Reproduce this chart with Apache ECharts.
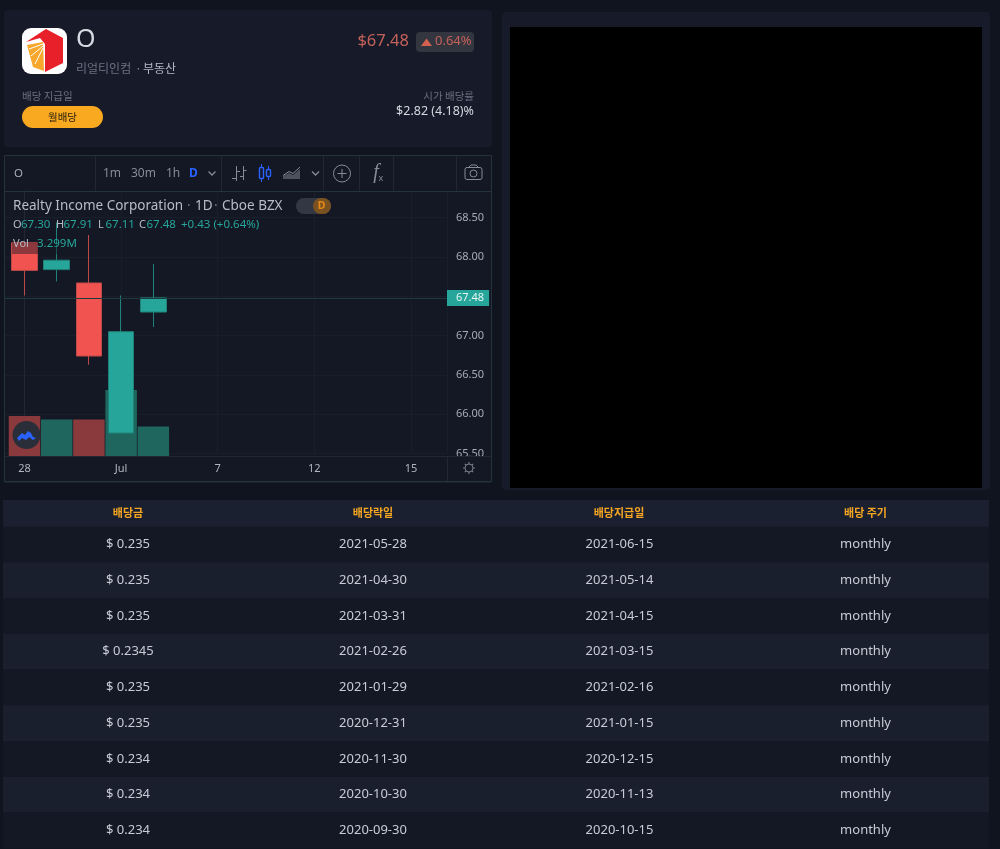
<!DOCTYPE html>
<html>
<head>
<meta charset="utf-8">
<title>O</title>
<style>
    html, body { margin: 0; padding: 0; background: #10141f; }
    #main { width: 1000px; height: 849px; }
</style>
<script src="https://cdn.jsdelivr.net/npm/echarts@6/dist/echarts.min.js"></script>
</head>
<body>
<div id="main"></div>
<script>
// 캔들 데이터
const categories = ['06-28', '06-29', '06-30', '07-01', '07-02'];
const opens = [68.18, 67.84, 67.67, 65.76, 67.30];
const closes = [67.83, 67.96, 66.74, 67.05, 67.48];
const lows = [67.51, 67.69, 66.63, 65.76, 67.11];
const highs = [68.18, 68.44, 68.28, 67.51, 67.91];
const volumes = [4.47, 4.08, 4.08, 7.38, 3.299];
const xTickLabels = {0: '28', 3: 'Jul', 6: '7', 9: '12', 12: '15'};

// 배당 테이블
const tableHeaders = ['배당금', '배당락일', '배당지급일', '배당 주기'];
const dividends = ['$ 0.235', '$ 0.235', '$ 0.235', '$ 0.2345', '$ 0.235', '$ 0.235', '$ 0.234', '$ 0.234', '$ 0.234'];
const exDates = ['2021-05-28', '2021-04-30', '2021-03-31', '2021-02-26', '2021-01-29', '2020-12-31', '2020-11-30', '2020-10-30', '2020-09-30'];
const payDates = ['2021-06-15', '2021-05-14', '2021-04-15', '2021-03-15', '2021-02-16', '2021-01-15', '2020-12-15', '2020-11-13', '2020-10-15'];
const cycles = ['monthly', 'monthly', 'monthly', 'monthly', 'monthly', 'monthly', 'monthly', 'monthly', 'monthly'];

const UP = '#26a69a', DOWN = '#f05350';
const KR = '"Noto Sans CJK KR", "Noto Sans", sans-serif';
const LATIN = '"Noto Sans", sans-serif';
const LINE = '#222734';
const FRAME = '#24333a';
const GRIDLINE = '#191e2b';
const ICON = '#868b98';

let myChart = echarts.init(document.getElementById('main'));

function rect(x, y, w, h, fill, r, z) {
    return {type: 'rect', z: z === undefined ? -10 : z, silent: true,
        shape: {x: x, y: y, width: w, height: h, r: r || 0}, style: {fill: fill}};
}
function text(s, x, y, size, color, align, font, weight) {
    return {type: 'text', z: 60, silent: true, x: x, y: y, style: {
        text: s, fill: color, fontSize: size, fontFamily: font || KR, fontWeight: weight || 'normal',
        textAlign: align || 'left', textVerticalAlign: 'middle'}};
}
function poly(points, fill, z) {
    return {type: 'polygon', z: z === undefined ? 60 : z, silent: true, shape: {points: points}, style: {fill: fill}};
}
function stroke(points, color, w) {
    return {type: 'polyline', z: 60, silent: true, shape: {points: points}, style: {stroke: color, fill: null, lineWidth: w || 1}};
}
function ring(cx, cy, r, color, w) {
    return {type: 'circle', z: 60, silent: true, shape: {cx: cx, cy: cy, r: r}, style: {stroke: color, fill: null, lineWidth: w || 1}};
}

let g = [];
// 상단 카드
g.push(rect(4, 10, 488, 137, '#171b29', 4));
g.push(rect(502, 12, 488, 478, '#171b29', 4));
g.push(rect(510, 27, 472, 461, '#000000'));
g.push(rect(22, 28, 45, 46, '#ffffff', 9, 59));
g.push(poly([[26, 42], [46, 29], [63, 38], [63, 63], [45, 72], [45, 44], [40, 38]], '#e8202a'));
g.push(poly([[27, 45], [43, 42], [44, 71], [33, 67]], '#f7a72c'));
g.push(stroke([[29, 49], [43, 44]], '#ffffff', 1));
g.push(stroke([[31, 56], [43, 46]], '#ffffff', 1));
g.push(stroke([[35, 64], [43, 48]], '#ffffff', 1));
g.push(text('O', 76, 40, 25, '#d8dbe3', 'left', LATIN));
g.push(text('리얼티인컴', 76, 68, 12, '#6b7080'));
g.push(text('·', 135, 68, 12, '#8a8f9c'));
g.push(text('부동산', 143, 68, 12, '#b6bac5'));
g.push(text('$67.48', 409, 41, 16.5, '#c4605a', 'right', LATIN));
g.push(rect(416, 32, 58, 20, '#33363f', 4, 59));
g.push(poly([[421, 46], [432, 46], [426.5, 38.5]], '#d4604f'));
g.push(text('0.64%', 435, 41.5, 13, '#c4605a', 'left', LATIN));
g.push(text('배당 지급일', 22, 96, 10.5, '#6b7080'));
g.push(rect(22, 106, 81, 22, '#f8a91f', 11, 59));
g.push(text('월배당', 62.5, 117, 10.5, '#2a2010', 'center'));
g.push(text('시가 배당률', 474, 96, 10.5, '#6b7080', 'right'));
g.push(text('$2.82 (4.18)%', 474, 111.5, 12.5, '#d5d8e0', 'right', LATIN));

// 차트 프레임
g.push(rect(4, 155, 488, 327, '#141824'));
g.push(stroke([[4.5, 155.5], [491.5, 155.5], [491.5, 481.5], [4.5, 481.5], [4.5, 155.5]], FRAME, 1));
g.push(stroke([[5, 191.5], [491, 191.5]], FRAME, 1));
[95.5, 221.5, 323.5, 359.5, 393.5, 456.5].forEach(function (x) {
    g.push(stroke([[x, 156], [x, 191]], LINE, 1));
});
g.push(text('O', 14, 173.5, 11.5, '#a6abb6', 'left', LATIN));
g.push(text('1m', 103, 173.5, 12, ICON, 'left', LATIN));
g.push(text('30m', 131, 173.5, 12, ICON, 'left', LATIN));
g.push(text('1h', 166, 173.5, 12, ICON, 'left', LATIN));
g.push(text('D', 189, 173.5, 12, '#2962ff', 'left', LATIN, 'bold'));
g.push(stroke([[208.5, 171.5], [212, 175], [215.5, 171.5]], ICON, 1.3));
g.push(stroke([[312, 171.5], [315.5, 175], [319, 171.5]], ICON, 1.3));
// 툴바 아이콘
g.push(stroke([[236.5, 166], [236.5, 181]], ICON, 1));
g.push(stroke([[232, 178.5], [236, 178.5]], ICON, 1));
g.push(stroke([[237, 171.5], [240, 171.5]], ICON, 1));
g.push(stroke([[243.5, 166], [243.5, 180]], ICON, 1));
g.push(stroke([[240, 176.5], [243, 176.5]], ICON, 1));
g.push(stroke([[244, 170.5], [246.5, 170.5]], ICON, 1));
g.push(stroke([[261.5, 164], [261.5, 182]], '#2962ff', 1));
g.push(stroke([[268.5, 166], [268.5, 180]], '#2962ff', 1));
g.push({type: 'rect', z: 60, silent: true, shape: {x: 259.5, y: 167.5, width: 4, height: 11, r: 1}, style: {fill: '#141824', stroke: '#2962ff', lineWidth: 1.4}});
g.push({type: 'rect', z: 60, silent: true, shape: {x: 266.5, y: 169.5, width: 4, height: 7, r: 1}, style: {fill: '#141824', stroke: '#2962ff', lineWidth: 1.4}});
g.push(poly([[283, 179], [283, 176], [289, 173], [293, 175], [300, 169], [300, 179]], '#4c515e'));
g.push(stroke([[283, 175.5], [289, 171.5], [293, 173.5], [300, 167]], ICON, 1));
g.push(ring(342, 173.5, 8.5, ICON, 1));
g.push(stroke([[337.5, 173.5], [346.5, 173.5]], ICON, 1));
g.push(stroke([[342, 169], [342, 178]], ICON, 1));
g.push(text('f', 376, 172.5, 20, ICON, 'center', 'Liberation Serif', 'italic'));
g.push(text('x', 381, 178.5, 9, ICON, 'center', LATIN));
g.push({type: 'rect', z: 60, silent: true, shape: {x: 465, y: 167.5, width: 17, height: 12, r: 2}, style: {fill: null, stroke: ICON, lineWidth: 1}});
g.push(ring(473.5, 173.5, 3.5, ICON, 1));
g.push(stroke([[469, 167], [471, 165], [476, 165], [478, 167]], ICON, 1));

// 차트 위 덮개와 범례
g.push(rect(0, 456, 491, 25, '#141824', 0, 40));
g.push(rect(0, 155, 5, 327, '#10141f', 0, 40));
g.push(stroke([[5, 456.5], [491, 456.5]], LINE, 1));
g.push(stroke([[4.5, 456], [4.5, 482], [491.5, 482]], FRAME, 1));
g.push(rect(447, 456, 1, 25, LINE, 0, 41));
// 설정 톱니
g.push(ring(469, 468, 4, '#787d8a', 1));
[[469, 462, 469, 464], [469, 472, 469, 474], [463, 468, 465, 468], [473, 468, 475, 468],
    [464.8, 463.8, 466.2, 465.2], [471.8, 470.8, 473.2, 472.2], [473.2, 463.8, 471.8, 465.2], [466.2, 470.8, 464.8, 472.2]].forEach(function (p) {
    g.push(stroke([[p[0], p[1]], [p[2], p[3]]], '#787d8a', 1.2));
});
g.push(rect(12, 243, 62, 11, 'rgba(20,24,36,0.45)', 0, 30));
const last = categories.length - 1;
const change = 0.43, changePct = 0.64;
g.push(text('Realty Income Corporation', 13, 206, 13.5, '#b8bcc7', 'left', LATIN));
g.push(text('·', 187, 206, 13.5, '#6b7080', 'left', LATIN));
g.push(text('1D', 195, 206, 13.5, '#b8bcc7', 'left', LATIN));
g.push(text('·', 214, 206, 13.5, '#6b7080', 'left', LATIN));
g.push(text('Cboe BZX', 222, 206, 13.5, '#b8bcc7', 'left', LATIN));
g.push(rect(296, 198, 35, 16, '#333743', 8, 59));
g.push(rect(313, 198, 18, 16, '#7a5220', 8, 59));
g.push(rect(301, 204.5, 10, 3, '#b8bcc7', 1));
g.push(text('D', 321.5, 206, 10.5, '#e88a1a', 'center', LATIN, 'bold'));
[['O', 13, opens[last]], ['H', 56, highs[last]], ['L', 98, lows[last]], ['C', 139, closes[last]]].forEach(function (it) {
    g.push(text(it[0], it[1], 224.5, 11, '#b8bcc7', 'left', LATIN));
    g.push(text(it[2].toFixed(2), it[1] + (it[0] === 'O' ? 8 : 7.5), 224.5, 11.5, UP, 'left', LATIN));
});
g.push(text('+' + change.toFixed(2) + ' (+' + changePct.toFixed(2) + '%)', 181, 224.5, 11.5, UP, 'left', LATIN));
g.push(text('Vol', 13, 244, 11, '#b8bcc7', 'left', LATIN));
g.push(text(volumes[last].toFixed(3) + 'M', 37, 244, 11.5, UP, 'left', LATIN));
// 트레이딩뷰 로고
g.push({type: 'circle', z: 60, silent: true, shape: {cx: 26.5, cy: 435, r: 14}, style: {fill: '#2a2e39'}});
g.push(poly([[17, 438], [22, 433], [25, 435], [28, 431], [31, 433], [33, 437], [36, 438], [33, 440], [29, 437], [26, 440], [22, 438], [19, 441]], '#2962ff'));

// 테이블
g.push(rect(3, 500, 986, 27, '#1b2030'));
tableHeaders.forEach(function (h, i) {
    g.push(text(h, [128, 373, 619, 865.5][i], 512.5, 11, '#f5a623', 'center', KR, 'bold'));
});
dividends.forEach(function (d, i) {
    const y = 526.5 + i * 35.75;
    g.push(rect(3, y, 986, 35.75, i % 2 ? '#1a1f2e' : '#141824'));
    const cy = y + 18;
    g.push(text(d, 128, cy, 13, '#c8ccd6', 'center', LATIN));
    g.push(text(exDates[i], 373, cy, 13, '#c8ccd6', 'center', LATIN));
    g.push(text(payDates[i], 619.5, cy, 13, '#c8ccd6', 'center', LATIN));
    g.push(text(cycles[i], 865.5, cy, 13, '#c8ccd6', 'center', LATIN));
});

const candleData = categories.map(function (c, i) {
    return [i, opens[i], closes[i], lows[i], highs[i]];
});
const volumeData = categories.map(function (c, i) {
    return {value: [i, volumes[i]], itemStyle: {color: closes[i] >= opens[i] ? '#1f665f' : '#8a3a3c'}};
});

// 가격 격자와 거래량 격자는 x 범위가 같다
const xBase = {type: 'value', min: -3, max: 13.12, interval: 3};

let option = {
    animation: false,
    backgroundColor: '#10141f',
    graphic: {elements: g},
    grid: [
        {left: -72.1, top: 191, width: 519.1, height: 262.5, outerBoundsMode: 'none'},
        {left: -72.1, top: 191, width: 519.1, height: 265, outerBoundsMode: 'none'}
    ],
    xAxis: [
        Object.assign({}, xBase, {
            gridIndex: 0,
            axisLine: {show: false}, axisTick: {show: false}, axisLabel: {show: false},
            splitLine: {show: true, lineStyle: {color: GRIDLINE}}
        }),
        Object.assign({}, xBase, {
            gridIndex: 1, z: 45,
            axisLine: {show: false}, axisTick: {show: false}, splitLine: {show: false},
            axisLabel: {
                show: true, color: '#b2b5be', fontSize: 11, fontFamily: LATIN, margin: 7,
                showMinLabel: false, showMaxLabel: false,
                formatter: function (v) { return xTickLabels[v] || ''; }
            }
        })
    ],
    yAxis: [
        {
            type: 'value', gridIndex: 0, position: 'right', min: 65.5, max: 68.84, interval: 0.5,
            axisLine: {show: true, lineStyle: {color: LINE}}, axisTick: {show: false},
            splitLine: {show: true, lineStyle: {color: GRIDLINE}},
            axisLabel: {
                color: '#a6abb6', fontSize: 11, fontFamily: LATIN, margin: 9,
                showMaxLabel: false, padding: [2, 0, 0, 0],
                formatter: function (v) { return v.toFixed(2); }
            }
        },
        {type: 'value', gridIndex: 1, min: 0, max: 29.6, show: false}
    ],
    series: [
        {
            type: 'bar', xAxisIndex: 1, yAxisIndex: 1, barWidth: 31.5, z: 1,
            data: volumeData
        },
        {
            type: 'candlestick', xAxisIndex: 0, yAxisIndex: 0, barWidth: 26, z: 3,
            encode: {x: 0, y: [1, 2, 3, 4]},
            itemStyle: {color: UP, color0: DOWN, borderColor: '#1f8278', borderColor0: '#bd4a48', borderWidth: 1},
            data: candleData,
            markLine: {
                silent: true, symbol: 'none',
                lineStyle: {color: '#1d3a3c', type: 'solid', width: 1},
                label: {
                    position: 'end', distance: 0, formatter: closes[last].toFixed(2),
                    backgroundColor: UP, color: '#e8f5f3', fontSize: 11, fontFamily: LATIN,
                    padding: [3, 5, 2, 9]
                },
                data: [{yAxis: closes[last]}]
            }
        }
    ]
};
myChart.setOption(option);
</script>
</body>
</html>
